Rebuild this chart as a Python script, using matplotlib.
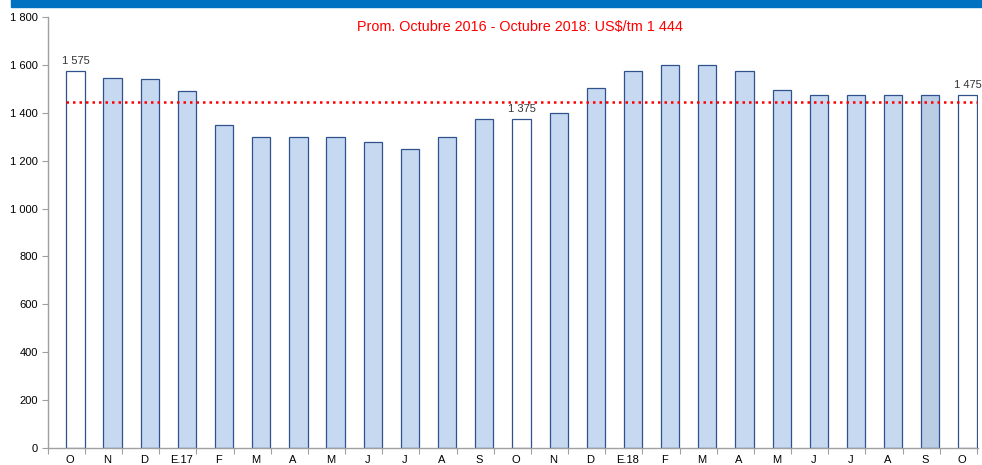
import matplotlib
matplotlib.use('Agg')
import matplotlib.pyplot as plt
import numpy as np

# data
months = ['O', 'N', 'D', 'E.17', 'F', 'M', 'A', 'M', 'J', 'J', 'A', 'S',
          'O', 'N', 'D', 'E.18', 'F', 'M', 'A', 'M', 'J', 'J', 'A', 'S', 'O']
prices = [1575, 1545, 1540, 1490, 1350, 1300, 1300, 1300, 1280, 1250, 1300, 1375,
          1375, 1400, 1505, 1575, 1600, 1600, 1575, 1497, 1475, 1475, 1475, 1475, 1475]
average = 1444
labelled = {0: '1 575', 12: '1 375', 24: '1 475'}
white_bars = [0, 12, 24]
dark_bar = 23

plt.rcParams['font.family'] = ['Liberation Sans', 'DejaVu Sans']

fig = plt.figure(figsize=(9.82, 4.65), dpi=100)
ax = fig.add_axes([0.0486, 0.0366, 0.9474, 0.9268])

# top blue band
fig.patches.append(matplotlib.patches.Rectangle((0.0112, 0.985), 0.99, 0.02,
                   transform=fig.transFigure, color='#0070C0', zorder=0))

x = np.arange(len(months))
colors = []
for i in range(len(months)):
    if i in white_bars:
        colors.append('white')
    elif i == dark_bar:
        colors.append('#B9CDE5')
    else:
        colors.append('#C6D9F1')
ax.bar(x, prices, width=0.49, align='edge', color=colors, edgecolor='#2F528F',
       linewidth=0.9, zorder=2)

for i, txt in labelled.items():
    ax.text(i + 0.245, prices[i] + 22, txt, ha='center', va='bottom',
            fontsize=8, color='#333333')

ax.plot([-0.02, 24.5], [average, average], color='#FF0000', linestyle=(0, (1, 1.6)),
        linewidth=1.8, zorder=3)
ax.text(12.2, 1760, 'Prom. Octubre 2016 - Octubre 2018: US$/tm 1 444',
        ha='center', va='center', fontsize=10.4, color='#FF0000')

ax.set_xlim(-0.5, 24.53)
ax.set_ylim(0, 1800)
ax.set_yticks(range(0, 1801, 200))
ax.set_yticklabels([f'{v:,}'.replace(',', ' ') for v in range(0, 1801, 200)])
ax.set_xticks(np.arange(-0.5, 24.6, 1.0))
ax.set_xticklabels([])
ax.set_xticks(x + 0.1, minor=True)
ax.set_xticklabels(months, minor=True)
ax.tick_params(axis='x', which='minor', length=0, labelsize=8, pad=5)
ax.tick_params(axis='x', which='major', length=4, color='#A0A0A0', direction='out')
ax.tick_params(axis='y', length=4, color='#A0A0A0', labelsize=8, pad=3)

for s in ['top', 'right']:
    ax.spines[s].set_visible(False)
for s in ['left', 'bottom']:
    ax.spines[s].set_color('#A0A0A0')
    ax.spines[s].set_linewidth(1)

fig.savefig('out.png', dpi=100)
